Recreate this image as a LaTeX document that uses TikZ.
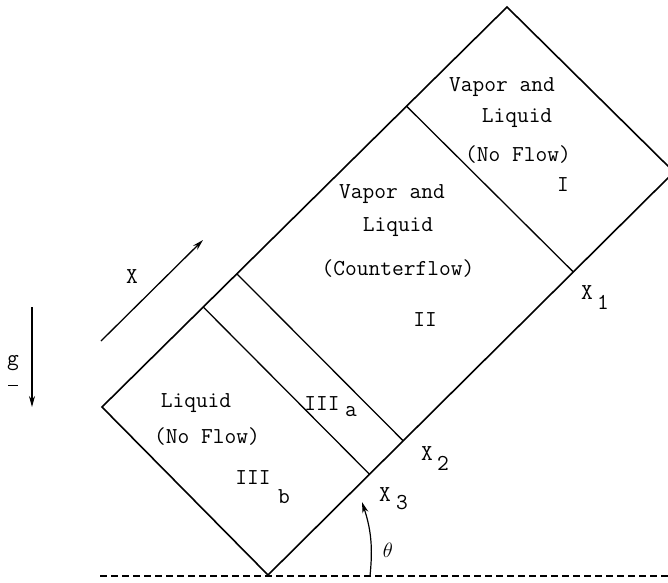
\documentclass[tikz,border=0pt]{standalone}
\usepackage{amsmath}
\usepackage{fontspec}
\usetikzlibrary{calc, arrows.meta}

\begin{document}
\begin{tikzpicture}[x=1pt, y=-1pt,
    wall/.style={line width=1.6pt},
    cut/.style={line width=1.3pt},
    txt/.style={font=\ttfamily\fontsize{22.8}{27}\selectfont, inner sep=0pt},
    >={Stealth[length=11pt, width=6pt]}]
    \useasboundingbox (0,0) rectangle (668,582);
    \clip (0,0) rectangle (668,582);

    % pipe
    \coordinate (B) at (268,575);
    \coordinate (L) at (102,407);
    \coordinate (T) at (507,7);
    \coordinate (R) at (674,172);
    \draw[wall] (B) -- (L) -- (T) -- (R) -- cycle;
    \foreach \t in {0.752, 0.333, 0.25}
        \draw[cut] ($(L)!\t!(T)$) -- ($(B)!\t!(R)$);

    % horizontal reference and angle
    \coordinate (h1) at (100,576);
    \coordinate (h2) at (668,576);
    \draw[cut, dash pattern=on 7pt off 4pt] (h1) -- (h2);
    \coordinate (th1) at (370,576);
    \coordinate (th2) at (362,502);
    \draw[->, line width=1.2pt] (th1) to[bend right=12] (th2);
    \node (theta) at (388,550) {\fontsize{21}{25}\selectfont$\theta$};

    % axis X
    \coordinate (xs) at (101,341);
    \coordinate (xe) at (203,240);
    \draw[->, line width=1.3pt] (xs) -- (xe);
    \node[txt] (xlab) at (132,277) {X};

    % gravity
    \coordinate (gs) at (32,307);
    \coordinate (ge) at (32,407);
    \draw[->, line width=1.3pt] (gs) -- (ge);
    \node[txt] (glab) at (13,363) {g};
    \draw[line width=1.1pt] ([xshift=-5pt, yshift=-22.5pt]glab.center) -- ++(10,0);

    % region I
    \node[txt] (vapI) at (502,87) {Vapor and};
    \node[txt] (liqI) at (517,118) {Liquid};
    \node[txt] (nofI) at (518,155) {(No Flow)};
    \node[txt] (regI) at (563,185) {I};

    % region II
    \node[txt] (vapII) at (392,194) {Vapor and};
    \node[txt] (liqII) at (398,227) {Liquid};
    \node[txt] (cfII) at (398,269) {(Counterflow)};
    \node[txt] (regII) at (425,320) {II};

    % region III
    \node[txt] (liqIII) at (196,403) {Liquid};
    \node[txt] (nofIII) at (207,437) {(No Flow)};
    \node[txt] (regIIIb) at (253,478) {III};
    \node[txt] (subb) at (284,497) {b};
    \node[txt] (regIIIa) at (322,404) {III};
    \node[txt] (suba) at (351,412) {a};

    % stations
    \node[txt] (x1) at (587,293) {X};
    \node[txt] (s1) at (603,302) {1};
    \node[txt] (x2) at (427,454) {X};
    \node[txt] (s2) at (443,463) {2};
    \node[txt] (x3) at (385,495) {X};
    \node[txt] (s3) at (402,503) {3};
\end{tikzpicture}
\end{document}
